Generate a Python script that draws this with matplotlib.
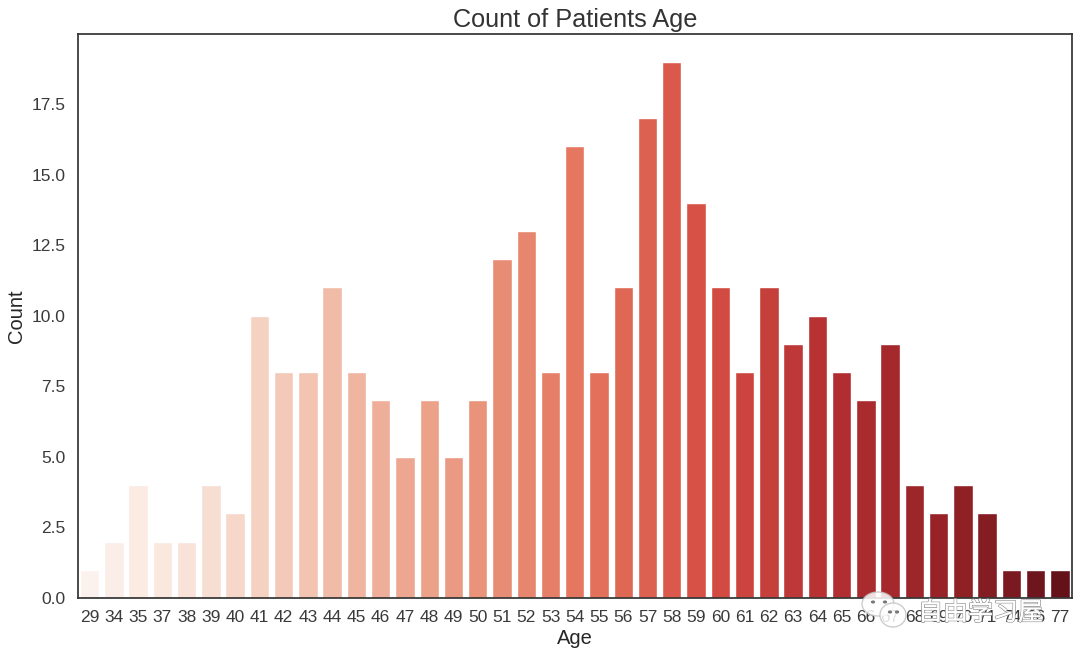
import matplotlib
matplotlib.use('Agg')
import matplotlib.pyplot as plt
import matplotlib.patches as mpatches
import matplotlib.patheffects as path_effects
import seaborn as sns

ages = [29, 34, 35, 37, 38, 39, 40, 41, 42, 43, 44, 45, 46, 47, 48, 49, 50, 51, 52, 53,
        54, 55, 56, 57, 58, 59, 60, 61, 62, 63, 64, 65, 66, 67, 68, 69, 70, 71, 74, 76, 77]
counts = [1, 2, 4, 2, 2, 4, 3, 10, 8, 8, 11, 8, 7, 5, 7, 5, 7, 12, 13, 8,
          16, 8, 11, 17, 19, 14, 11, 8, 11, 9, 10, 8, 7, 9, 4, 3, 4, 3, 1, 1, 1]

sns.set_style('white')
plt.rcParams['font.family'] = ['Liberation Sans', 'DejaVu Sans']

fig = plt.figure(figsize=(10.8, 6.6), dpi=100)
ax = fig.add_axes([77.5 / 1080, 62 / 660, 994.5 / 1080, 564 / 660])

# seaborn barplot dulls the palette by default
colors = [sns.desaturate(c, 0.75) for c in sns.color_palette('Reds', len(ages))]
x = range(len(ages))
ax.bar(x, counts, width=0.8, color=colors)

ax.set_xticks(list(x))
ax.set_xticklabels(ages, fontsize=12.5, color='#3a3a3a')
ax.tick_params(axis='x', pad=5)
ax.tick_params(axis='y', labelsize=12.5, labelcolor='#3a3a3a', pad=5)
ax.set_xlim(-0.5, len(ages) - 0.5)
ax.set_ylim(0, 19.98)
ax.set_xlabel('Age', fontsize=14.5, color='#262626', labelpad=3)
ax.set_ylabel('Count', fontsize=14.5, color='#262626', labelpad=4)
ax.set_title('Count of Patients Age', fontsize=18.2, color='#333333', pad=5)

for spine in ax.spines.values():
    spine.set_color('#333333')
    spine.set_linewidth(1.25)

# watermark over the lower right corner
for cx, cy, w, h in [(878, 604, 32, 24), (893, 615, 26, 24)]:
    fig.add_artist(mpatches.Ellipse((cx / 1080, 1 - cy / 660), w / 1080, h / 660,
                                    transform=fig.transFigure, facecolor='white',
                                    edgecolor='#c4c4c4', linewidth=1, alpha=0.85))
for ex, ey in [(873, 602), (885, 602), (890, 612), (897, 612)]:
    fig.add_artist(mpatches.Circle((ex / 1080, 1 - ey / 660), 0.0013,
                                   transform=fig.transFigure, color='#777777'))
mark = fig.text(918 / 1080, 1 - 613 / 660, '自由学习屋', fontsize=18, color='white',
                family=['Noto Sans CJK SC', 'DejaVu Sans'], va='center', ha='left')
mark.set_path_effects([path_effects.withStroke(linewidth=1.2, foreground='#9a9a9a'),
                       path_effects.Normal()])

fig.savefig('out.png', dpi=100)
